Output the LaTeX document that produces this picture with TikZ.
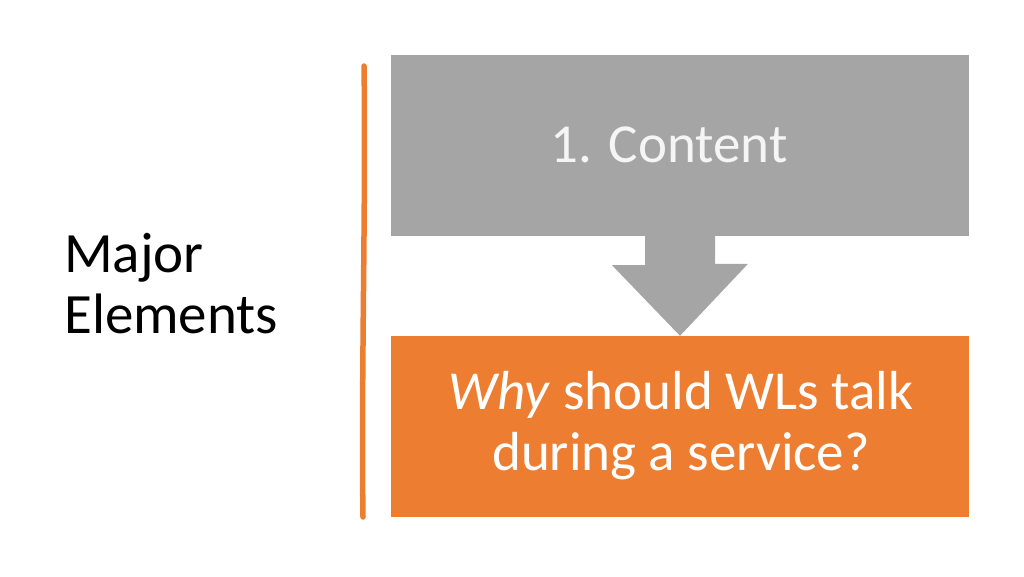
\documentclass[tikz,border=0pt]{standalone}
\usepackage{fontspec}
\setmainfont{Carlito}
\definecolor{boxgray}{HTML}{A5A5A5}
\definecolor{boxorange}{HTML}{ED7D31}
\definecolor{txtlight}{HTML}{F5F5F5}
\begin{document}
\begin{tikzpicture}[x=1pt,y=-1pt,
  panel/.style={draw=none,minimum width=578pt,minimum height=181pt,inner sep=0pt},
  bigtxt/.style={font=\fontsize{55}{61}\selectfont,align=center}]
\useasboundingbox (0,0) rectangle (1024,576);
\node[panel,fill=boxgray] (top) at (680,145.5) {};
\node[panel,fill=boxorange] (bottom) at (680,426.5) {};
\node[bigtxt,text=txtlight,anchor=base] (toptext) at (669,162) {1. Content};
\node[bigtxt,text=white,inner sep=0pt] (bottomtext) at (681,426) {\textit{Why} should WLs talk\\during a service?};
\node[bigtxt,font=\fontsize{57}{61}\selectfont,align=left,anchor=north west,inner sep=0pt] (label) at (64,233) {Major\\Elements};
% arrow
\coordinate (tip) at (bottom.north);
\fill[boxgray] (top.south) ++(-35,0) -- ++(0,29) -- ++(-33,0) -- (tip) -- ++(68,-72) -- ++(-33,0) -- ++(0,-29) -- cycle;
% hand-drawn separator
\coordinate (ltop) at (364,66);
\coordinate (lbot) at (363,517);
\draw[boxorange,line width=5.5pt,line cap=round] (ltop) .. controls (366,200) and (361,380) .. (lbot);
\end{tikzpicture}
\end{document}
